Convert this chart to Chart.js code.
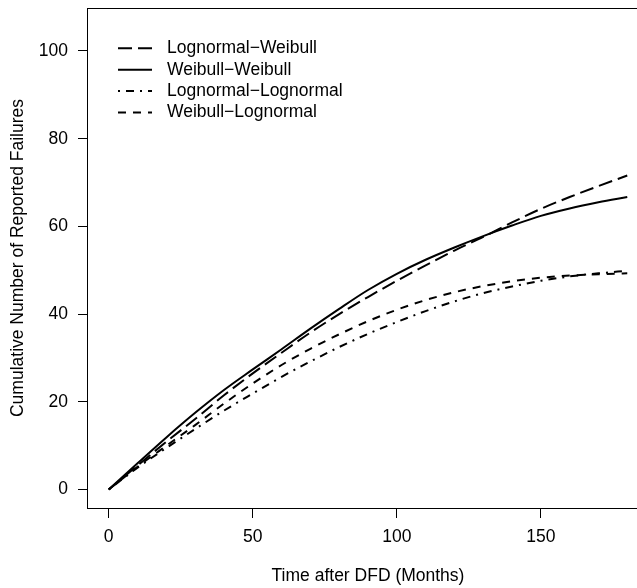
<!DOCTYPE html>
<html>
<head>
<meta charset="utf-8">
<script src="https://cdn.jsdelivr.net/npm/chart.js@4"></script>
<style>
html, body { margin: 0; padding: 0; overflow: hidden; background: #fff; }
</style>
</head>
<body>
<canvas id="chart" width="660" height="588"></canvas>
<script>
// Values, one every 10 months.
let months = [0, 10, 20, 30, 40, 50, 60, 70, 80, 90, 100, 110, 120, 130, 140, 150, 160, 170, 180]

let lognormal_weibull   = [0, 5.5, 10.9, 16.1, 21.5, 26.5, 31.2, 35.8, 40.0, 43.9, 47.6, 51.1, 54.5, 57.6, 60.9, 64.0, 66.7, 69.2, 71.6]
let weibull_weibull     = [0, 6.0, 11.9, 17.5, 22.7, 27.4, 32.0, 36.7, 41.2, 45.5, 49.2, 52.4, 55.2, 57.8, 60.2, 62.4, 64.1, 65.5, 66.7]
let lognormal_lognormal = [0, 5.0, 9.5, 13.8, 18.0, 21.9, 25.7, 29.2, 32.5, 35.5, 38.2, 40.7, 42.9, 44.8, 46.3, 47.6, 48.6, 49.3, 49.9]
let weibull_lognormal   = [0, 5.2, 10.0, 14.7, 19.6, 24.2, 28.4, 32.1, 35.4, 38.4, 41.0, 43.2, 45.0, 46.4, 47.5, 48.3, 48.8, 49.1, 49.3]

let x_ticks = [0, 50, 100, 150]
let y_ticks = [0, 20, 40, 60, 80, 100]

let font = { family: "'Liberation Sans', Arial, sans-serif", size: 17.5 }

function points(ys) {
    return months.map((m, i) => ({ x: m, y: ys[i] }))
}

// R style box round the plotting region
let frame_plugin = {
    id: 'frame',
    afterDraw(chart) {
        let { ctx, chartArea: a } = chart
        ctx.save()
        ctx.strokeStyle = '#000'
        ctx.lineWidth = 1
        ctx.strokeRect(a.left - 0.5, a.top + 0.5, a.right - a.left, a.bottom - a.top)
        ctx.restore()
    }
}

// Legend drawn inside the plot, top left, with line samples
let legend_plugin = {
    id: 'inside_legend',
    afterDraw(chart, args, opts) {
        let { ctx, chartArea: a } = chart
        ctx.save()
        ctx.font = opts.size + "px " + font.family
        ctx.textBaseline = 'middle'
        ctx.textAlign = 'left'
        ctx.fillStyle = '#000'
        chart.data.datasets.forEach((ds, i) => {
            let y = a.top + opts.top + i * opts.row
            ctx.beginPath()
            ctx.setLineDash(ds.borderDash || [])
            ctx.lineWidth = ds.borderWidth
            ctx.strokeStyle = ds.borderColor
            ctx.moveTo(a.left + opts.line_start, y)
            ctx.lineTo(a.left + opts.line_end, y)
            ctx.stroke()
            ctx.setLineDash([])
            ctx.fillText(ds.label, a.left + opts.text_start, y)
        })
        ctx.restore()
    }
}

function curve(label, ys, dash) {
    return {
        label,
        data: points(ys),
        borderColor: '#000',
        borderWidth: 2,
        borderDash: dash,
        pointRadius: 0,
        fill: false,
        cubicInterpolationMode: 'monotone'
    }
}

new Chart(document.getElementById('chart'), {
    type: 'line',
    data: {
        datasets: [
            curve('Lognormal\u2212Weibull', lognormal_weibull, [14, 6]),
            curve('Weibull\u2212Weibull', weibull_weibull, []),
            curve('Lognormal\u2212Lognormal', lognormal_lognormal, [2, 6, 8, 6]),
            curve('Weibull\u2212Lognormal', weibull_lognormal, [8, 7])
        ]
    },
    options: {
        responsive: false,
        animation: false,
        devicePixelRatio: 1,
        layout: { padding: { top: 8, right: 12, bottom: 0, left: 0 } },
        plugins: {
            legend: { display: false },
            tooltip: { enabled: false },
            inside_legend: { top: 40.3, row: 21.4, line_start: 30, line_end: 64, text_start: 79, size: 17.5 }
        },
        scales: {
            x: {
                type: 'linear',
                min: -7.2,
                max: 187.2,
                afterBuildTicks: s => { s.ticks = x_ticks.map(v => ({ value: v })) },
                afterFit: s => {
                    s.height = 80
                    s.paddingLeft = 0
                    s.paddingRight = 0
                },
                grid: { drawOnChartArea: false, drawTicks: true, tickLength: 10, color: '#000', lineWidth: 1 },
                border: { display: false },
                ticks: { padding: 9, color: '#000', font, maxRotation: 0, autoSkip: false },
                title: { display: true, text: 'Time after DFD (Months)', color: '#000', font, padding: { top: 0, bottom: 1 } }
            },
            y: {
                min: -4.2,
                max: 109.8,
                afterBuildTicks: s => { s.ticks = y_ticks.map(v => ({ value: v })) },
                afterFit: s => {
                    s.width = 88
                    s.paddingTop = 0
                    s.paddingBottom = 0
                },
                grid: { drawOnChartArea: false, drawTicks: true, tickLength: 10, color: '#000', lineWidth: 1 },
                border: { display: false },
                ticks: { padding: 10, color: '#000', font, autoSkip: false },
                title: { display: true, text: 'Cumulative Number of Reported Failures', color: '#000', font, padding: { top: 8, bottom: 0 } }
            }
        }
    },
    plugins: [frame_plugin, legend_plugin]
})
</script>
</body>
</html>
